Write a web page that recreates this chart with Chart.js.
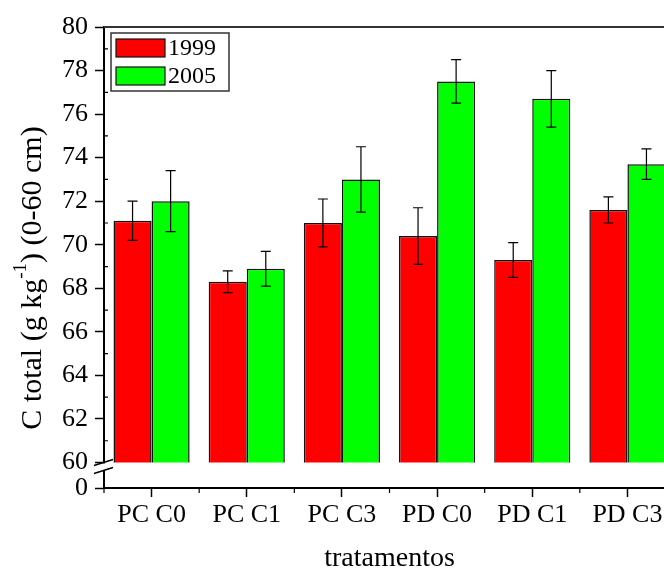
<!DOCTYPE html>
<html>
<head>
<meta charset="utf-8">
<script src="https://cdn.jsdelivr.net/npm/chart.js@4/dist/chart.umd.min.js"></script>
<style>
  html, body { margin: 0; padding: 0; background: #fff; overflow: hidden; }
  #wrap { width: 664px; height: 573px; overflow: hidden; }
</style>
</head>
<body>
<div id="wrap"><canvas id="grafico" width="676" height="573"></canvas></div>
<script>
const tratamentos = ['PC C0', 'PC C1', 'PC C3', 'PD C0', 'PD C1', 'PD C3']
const anos = ['1999', '2005']
const ct1999 = [71.1, 68.3, 71.0, 70.4, 69.3, 71.6]
const erro1999 = [0.9, 0.5, 1.1, 1.3, 0.8, 0.6]
const ct2005 = [72.0, 68.9, 73.0, 77.5, 76.7, 73.7]
const erro2005 = [1.4, 0.8, 1.5, 1.0, 1.3, 0.7]
const cores = ['#ff0000', '#00ff00']

const FONTE = 'Liberation Serif'

// barras de erro (desvio) desenhadas sobre cada barra
const barrasErro = {
    id: 'barrasErro',
    afterDatasetsDraw(chart) {
        const ctx = chart.ctx
        const escala = chart.scales.y
        ctx.save()
        ctx.strokeStyle = '#000'
        ctx.lineWidth = 1.2
        chart.data.datasets.forEach((ds, i) => {
            const meta = chart.getDatasetMeta(i)
            meta.data.forEach((barra, j) => {
                const v = ds.data[j]
                const e = ds.erros[j]
                const y1 = escala.getPixelForValue(v + e)
                const y2 = escala.getPixelForValue(v - e)
                ctx.beginPath()
                ctx.moveTo(barra.x, y1)
                ctx.lineTo(barra.x, y2)
                ctx.moveTo(barra.x - 5, y1)
                ctx.lineTo(barra.x + 5, y1)
                ctx.moveTo(barra.x - 5, y2)
                ctx.lineTo(barra.x + 5, y2)
                ctx.stroke()
            })
        })
        ctx.restore()
    }
}

// quebra do eixo entre 0 e 60, moldura e ticks secundarios
const quebraEixo = {
    id: 'quebraEixo',
    afterDatasetsDraw(chart) {
        const ctx = chart.ctx
        const area = chart.chartArea
        const y = chart.scales.y
        const x = chart.scales.x
        const y60 = y.getPixelForValue(60)
        ctx.save()
        // faixa branca da quebra
        ctx.fillStyle = '#fff'
        ctx.fillRect(area.left - 3, y60 + 1, area.right - area.left + 6, 6.5)
        // tracos da quebra
        ctx.strokeStyle = '#000'
        ctx.lineWidth = 1.5
        ctx.beginPath()
        ctx.moveTo(area.left - 10, y60 + 3)
        ctx.lineTo(area.left + 9, y60 - 3)
        ctx.moveTo(area.left - 10, y60 + 11)
        ctx.lineTo(area.left + 9, y60 + 5)
        ctx.stroke()
        // linha superior da moldura
        ctx.strokeStyle = '#333'
        ctx.lineWidth = 2
        ctx.beginPath()
        ctx.moveTo(area.left, area.top)
        ctx.lineTo(area.right, area.top)
        ctx.lineTo(area.right, area.bottom)
        ctx.stroke()
        // ticks secundarios do eixo y (valores impares, para dentro)
        ctx.strokeStyle = '#000'
        ctx.lineWidth = 1.2
        ctx.beginPath()
        for (let v = 61; v < 80; v += 2) {
            const p = y.getPixelForValue(v)
            ctx.moveTo(area.left, p)
            ctx.lineTo(area.left + 4, p)
        }
        // ticks secundarios do eixo x (entre tratamentos)
        const passo = x.getPixelForTick(1) - x.getPixelForTick(0)
        for (let i = 0; i <= tratamentos.length; i++) {
            const p = x.getPixelForTick(0) - passo / 2 + i * passo
            ctx.moveTo(p, area.bottom)
            ctx.lineTo(p, area.bottom + 5)
        }
        ctx.stroke()
        ctx.restore()
    },
    afterDraw(chart) {
        const ctx = chart.ctx
        const area = chart.chartArea
        ctx.save()
        ctx.fillStyle = '#000'
        ctx.textBaseline = 'middle'

        // titulo do eixo y com sobrescrito
        const partes = [
            ['C total (g kg', '30px "' + FONTE + '"', 0],
            ['-1', '19px "' + FONTE + '"', -12],
            [') (0-60 cm)', '30px "' + FONTE + '"', 0]
        ]
        let total = 0
        partes.forEach(p => { ctx.font = p[1]; total += ctx.measureText(p[0]).width })
        ctx.translate(33, 278)
        ctx.rotate(-Math.PI / 2)
        let pos = -total / 2
        ctx.textAlign = 'left'
        partes.forEach(p => {
            ctx.font = p[1]
            ctx.fillText(p[0], pos, p[2])
            pos += ctx.measureText(p[0]).width
        })
        ctx.setTransform(1, 0, 0, 1, 0, 0)

        // legenda
        const lx = area.left + 7, ly = area.top + 6
        ctx.fillStyle = '#fff'
        ctx.fillRect(lx, ly, 118, 58)
        ctx.strokeStyle = '#333'
        ctx.lineWidth = 1.5
        ctx.strokeRect(lx, ly, 118, 58)
        ctx.font = '24px "' + FONTE + '"'
        chart.data.datasets.forEach((ds, i) => {
            const yy = ly + 6 + i * 28
            ctx.fillStyle = ds.backgroundColor
            ctx.fillRect(lx + 5, yy, 49, 18)
            ctx.strokeStyle = '#111'
            ctx.lineWidth = 1.2
            ctx.strokeRect(lx + 5, yy, 49, 18)
            ctx.fillStyle = '#000'
            ctx.fillText(ds.label, lx + 57, yy + 10)
        })
        ctx.restore()
    }
}

const context = document.getElementById('grafico').getContext('2d')

new Chart(context, {
    type: 'bar',
    data: {
        labels: tratamentos,
        datasets: [
            {
                label: anos[0],
                data: ct1999,
                erros: erro1999,
                backgroundColor: cores[0],
                borderColor: '#111',
                borderWidth: 1.5,
                yAxisID: 'y',
                clip: 0
            },
            {
                label: anos[1],
                data: ct2005,
                erros: erro2005,
                backgroundColor: cores[1],
                borderColor: '#111',
                borderWidth: 1.5,
                yAxisID: 'y',
                clip: 0
            }
        ]
    },
    options: {
        responsive: false,
        animation: false,
        events: [],
        categoryPercentage: 0.8,
        barPercentage: 1.0,
        layout: { padding: { top: 27, right: 1, left: 0, bottom: 0 } },
        plugins: {
            legend: { display: false },
            tooltip: { enabled: false },
            title: { display: false }
        },
        scales: {
            x: {
                offset: true,
                grid: { offset: false, drawOnChartArea: false, tickLength: 9, tickColor: '#000', tickWidth: 1.5 },
                border: { color: '#000', width: 2 },
                ticks: { color: '#000', font: { family: FONTE, size: 26 }, padding: 3, maxRotation: 0, autoSkip: false },
                title: {
                    display: true,
                    text: 'tratamentos',
                    color: '#000',
                    font: { family: FONTE, size: 28, lineHeight: 1 },
                    padding: { top: 0, bottom: 0 }
                },
                afterFit: s => { s.height = 85 }
            },
            yBase: {
                type: 'linear',
                position: 'left',
                stack: 'esq',
                stackWeight: 25.5,
                min: 0,
                max: 1,
                afterBuildTicks: s => { s.ticks = [{ value: 0 }] },
                grid: { drawOnChartArea: false, tickLength: 9, tickColor: '#000', tickWidth: 1.5 },
                border: { color: '#000', width: 2 },
                ticks: { color: '#000', font: { family: FONTE, size: 26 }, padding: 7 },
                afterFit: s => { s.width = 104 }
            },
            y: {
                type: 'linear',
                position: 'left',
                stack: 'esq',
                stackWeight: 435.5,
                min: 60,
                max: 80,
                grid: { drawOnChartArea: false, tickLength: 9, tickColor: '#000', tickWidth: 1.5 },
                border: { color: '#000', width: 2 },
                ticks: { stepSize: 2, autoSkip: false, color: '#000', font: { family: FONTE, size: 26 }, padding: 7 },
                afterFit: s => { s.width = 104 }
            }
        }
    },
    plugins: [barrasErro, quebraEixo]
})
</script>
</body>
</html>
